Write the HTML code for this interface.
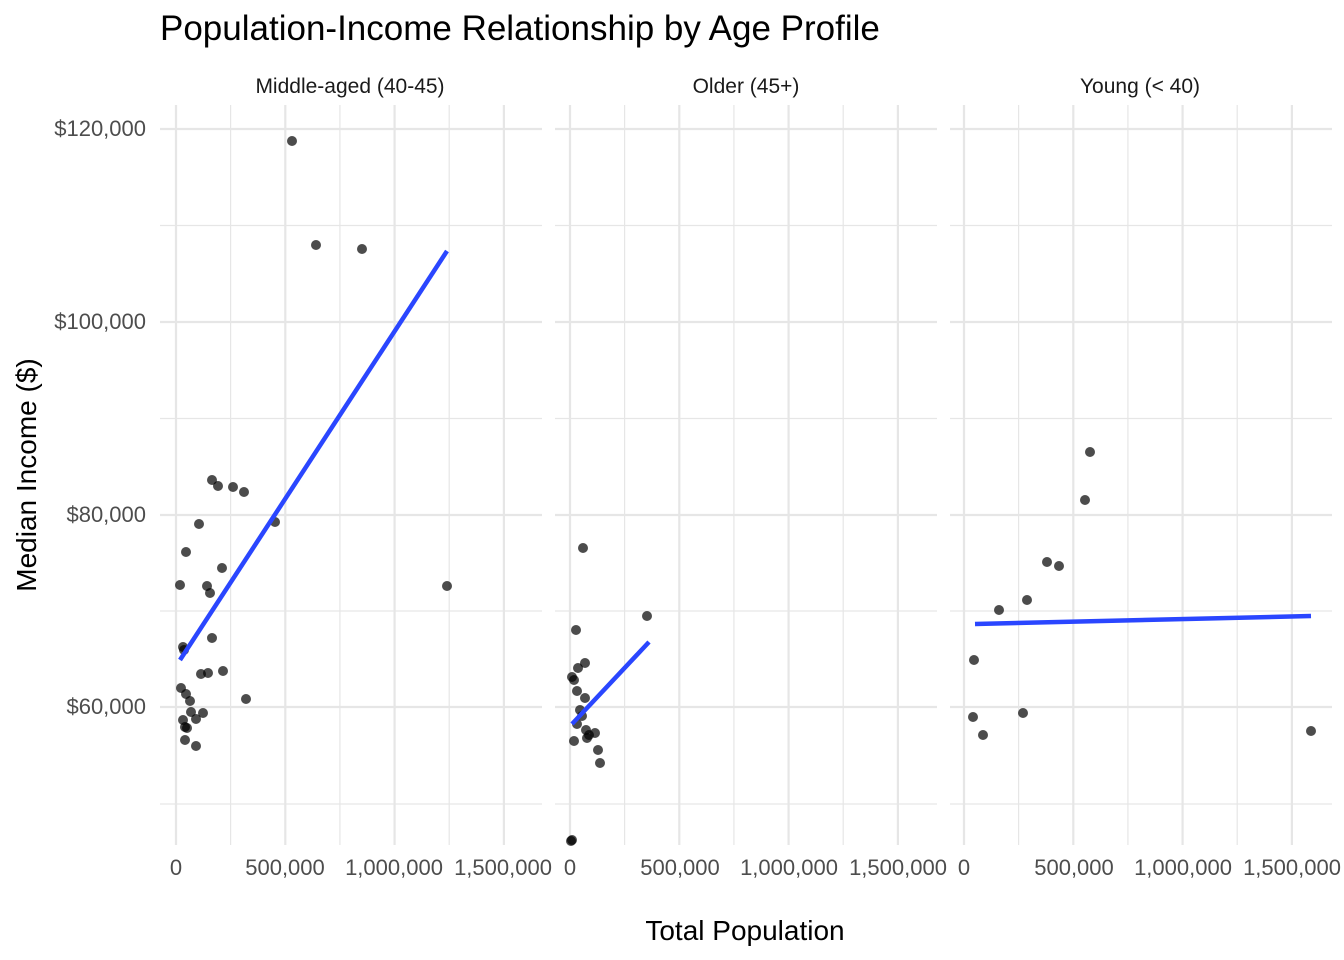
<!DOCTYPE html>
<html><head><meta charset="utf-8"><style>body{margin:0;background:#fff}svg{display:block;font-family:"Liberation Sans",Arial,sans-serif}</style></head><body>
<svg width="1344" height="960" viewBox="0 0 1344 960">
<rect width="1344" height="960" fill="#fff"/>
<g id="grid" stroke="#e6e6e6" fill="none">
</g>
<script>
var svg=document.querySelector('svg'),g=document.getElementById('grid');
var panels=[[160,542,176],[555,937,570],[950,1332,964]];
var ns='http://www.w3.org/2000/svg';
function el(t,a,p){var e=document.createElementNS(ns,t);for(var k in a)e.setAttribute(k,a[k]);(p||svg).appendChild(e);return e;}
var yMajor=[129,322,515,707],yMinor=[225.5,418.5,611,804];
panels.forEach(function(p){
 yMinor.forEach(function(y){el('line',{x1:p[0],x2:p[1],y1:y,y2:y,'stroke-width':1.2},g);});
 yMajor.forEach(function(y){el('line',{x1:p[0],x2:p[1],y1:y,y2:y,'stroke-width':2.2},g);});
 for(var i=0;i<4;i++){var x=p[2]+i*109.3;el('line',{x1:x,x2:x,y1:105,y2:845,'stroke-width':2.2},g);
  if(i<3)el('line',{x1:x+54.6,x2:x+54.6,y1:105,y2:845,'stroke-width':1.2},g);}
});
</script>
<g font-size="22" fill="#4d4d4d" text-anchor="end">
<text x="146" y="136">$120,000</text><text x="146" y="329">$100,000</text><text x="146" y="522">$80,000</text><text x="146" y="714">$60,000</text>
</g>
<g font-size="22" fill="#4d4d4d" text-anchor="middle">
<text x="176" y="875">0</text><text x="285" y="875">500,000</text><text x="394" y="875">1,000,000</text><text x="503" y="875">1,500,000</text>
<text x="570" y="875">0</text><text x="680" y="875">500,000</text><text x="789" y="875">1,000,000</text><text x="898" y="875">1,500,000</text>
<text x="964" y="875">0</text><text x="1074" y="875">500,000</text><text x="1183" y="875">1,000,000</text><text x="1292" y="875">1,500,000</text>
</g>
<g font-size="21" fill="#1a1a1a" text-anchor="middle">
<text x="350" y="93">Middle-aged (40-45)</text><text x="746" y="93">Older (45+)</text><text x="1140" y="93">Young (&lt; 40)</text>
</g>
<text x="160" y="40" font-size="35" fill="#000">Population-Income Relationship by Age Profile</text>
<text x="745" y="940" font-size="28" fill="#000" text-anchor="middle">Total Population</text>
<text transform="translate(36,475) rotate(-90)" font-size="28" fill="#000" text-anchor="middle">Median Income ($)</text>
<g id="pts" fill="#000" fill-opacity="0.7"></g>
<g stroke="#2a46ff" stroke-width="4.5" stroke-linecap="butt">
<line x1="180" y1="660" x2="447" y2="251"/>
<line x1="572" y1="724" x2="649" y2="642"/>
<line x1="975" y1="624" x2="1311" y2="616"/>
</g>
<script>
var P=[[292,141],[316,245],[362,249],[447,586],[275,522],[246,699],[233,487],[218,486],[244,492],[212,480],[199,524],[186,552],[180,585],[222,568],[207,586],[210,593],[212,638],[201,674],[208,673],[223,671],[183,647],[184,650],[181,688],[186,694],[190,701],[191,712],[203,713],[196,719],[183,720],[185,727],[187,728],[185,740],[196,746],
[583,548],[647,616],[576,630],[585,663],[578,668],[572,677],[574,680],[577,691],[585,698],[580,710],[582,716],[577,724],[586,730],[589,735],[595,733],[587,738],[574,741],[598,750],[600,763],[572,840],[571,841],
[1090,452],[1085,500],[1047,562],[1059,566],[1027,600],[999,610],[974,660],[973,717],[983,735],[1023,713],[1311,731]];
var pg=document.getElementById('pts');
P.forEach(function(q){el('circle',{cx:q[0],cy:q[1],r:5},pg);});
</script>
</svg>
</body></html>
